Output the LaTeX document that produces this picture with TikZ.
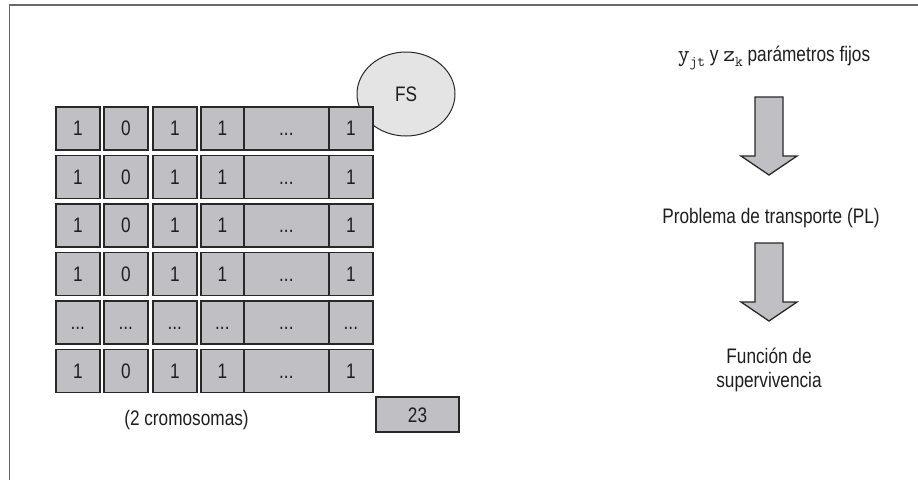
\documentclass[tikz,border=0pt]{standalone}
\usepackage{fontspec}
\setmainfont{Liberation Sans}[FakeStretch=0.82]
\usetikzlibrary{shapes.geometric}
\definecolor{cellgray}{RGB}{192,192,196}
\definecolor{linec}{RGB}{40,40,40}
\definecolor{fsfill}{RGB}{228,228,228}
\definecolor{framec}{RGB}{105,105,105}
\definecolor{txt}{RGB}{30,30,30}
\newcommand{\fsz}{\fontsize{21}{25}\selectfont}
\newcommand{\dd}{...}
\newcommand{\ttv}[2]{{\ttfamily\fontsize{23}{25}\selectfont #1\raisebox{-5pt}{\fontsize{15}{16}\selectfont #2}}}
\begin{document}
\begin{tikzpicture}[x=1pt,y=-1pt,
  cellbox/.style={draw=linec, line width=1.7pt, fill=cellgray, minimum height=43pt,
    inner sep=0pt, anchor=north west, font=\fsz, text=txt, text height=15pt, text depth=0pt},
  lbl/.style={font=\fsz, text=txt, inner sep=0pt, align=center},
  blockarrow/.style={draw=linec, line width=1.3pt, fill=cellgray, line join=miter},
  framel/.style={draw=framec, line width=1.8pt}]
\useasboundingbox (0,0) rectangle (918,480);
% frame (top and left only)
\draw[framel] (918,5) -- (9.5,5) -- (9.5,480);
% FS ellipse
\node[ellipse, draw=linec, line width=1pt, fill=fsfill, minimum width=98pt,
  minimum height=84pt, font=\fsz, text=txt] (fs) at (406,94) {FS};
% chromosome table
\foreach \r/\a/\b/\c/\d/\e/\f in {1/1/0/1/1/\dd/1, 2/1/0/1/1/\dd/1, 3/1/0/1/1/\dd/1,
   4/1/0/1/1/\dd/1, 5/\dd/\dd/\dd/\dd/\dd/\dd, 6/1/0/1/1/\dd/1}{
  \pgfmathsetmacro{\rtop}{106+48.5*(\r-1)}
  \node[cellbox, minimum width=44pt] (c\r-1) at (55,\rtop) {\a};
  \node[cellbox, minimum width=44pt] (c\r-2) at (103,\rtop) {\b};
  \node[cellbox, minimum width=44pt] (c\r-3) at (152,\rtop) {\c};
  \node[cellbox, minimum width=43pt] (c\r-4) at (200,\rtop) {\d};
  \node[cellbox, minimum width=85pt] (c\r-5) at (243,\rtop) {\e};
  \node[cellbox, minimum width=44pt] (c\r-6) at (328,\rtop) {\f};
}
\node[lbl] (crom) at (186.5,420) {(2 cromosomas)};
\node[cellbox, anchor=center, minimum width=83pt, minimum height=35pt] (n23) at (417.5,414.5) {23};
% right column
\node[lbl] (par) at (774,58) {\ttv{y}{jt} y \ttv{z}{k} parámetros fijos};
\node[lbl] (pl) at (771,218) {Problema de transporte (PL)};
\node[lbl] (fun) at (769,370) {Función de\\[-1pt]supervivencia};
\coordinate (a1) at (769,97);
\coordinate (a2) at (769,243);
\foreach \a in {a1,a2}{
  \draw[blockarrow] (\a) ++(-14,0) -- ++(28,0) -- ++(0,59) -- ++(14,0)
    -- ++(-28,19) -- ++(-28,-19) -- ++(14,0) -- cycle;
}
\end{tikzpicture}
\end{document}
